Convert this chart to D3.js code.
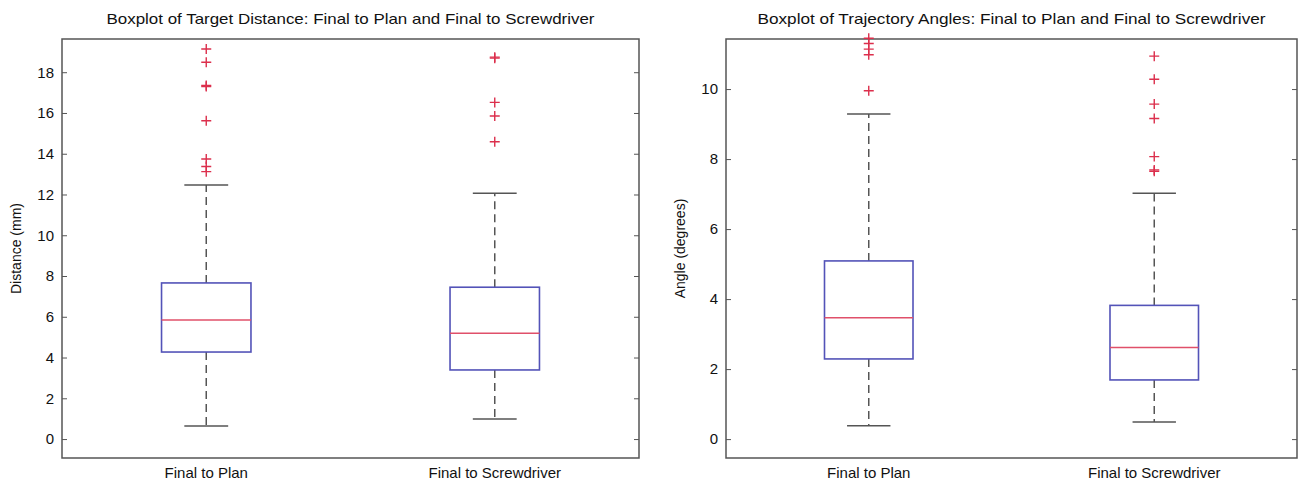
<!DOCTYPE html>
<html>
<head>
<meta charset="utf-8">
<script src="https://cdn.jsdelivr.net/npm/d3@7"></script>
<style>
  body { margin: 0; background: #fff; }
  svg { display: block; font-family: "Liberation Sans", Arial, sans-serif; }
</style>
</head>
<body>
<svg id="chart" width="1299" height="484"></svg>
<script>
// categories
const groups = ["Final to Plan", "Final to Screwdriver"];

// target distance (mm), one value per group
const distLow = [0.64, 0.98];
const distQ1 = [4.27, 3.39];
const distMedian = [5.84, 5.19];
const distQ3 = [7.66, 7.45];
const distHigh = [12.47, 12.06];
const distOutliers = [
  [19.14, 18.49, 17.35, 17.30, 15.62, 13.74, 13.37, 13.12],
  [18.74, 18.69, 16.52, 15.85, 14.59]
];
const distTicks = [0, 2, 4, 6, 8, 10, 12, 14, 16, 18];

// trajectory angles (degrees)
const angleLow = [0.38, 0.49];
const angleQ1 = [2.29, 1.69];
const angleMedian = [3.47, 2.62];
const angleQ3 = [5.09, 3.82];
const angleHigh = [9.29, 7.02];
const angleOutliers = [
  [11.45, 11.3, 11.14, 10.98, 9.95],
  [10.94, 10.28, 9.57, 9.16, 8.07, 7.69, 7.65]
];
const angleTicks = [0, 2, 4, 6, 8, 10];

const svg = d3.select("#chart");

function drawPanel(opt) {
  const g = svg.append("g");
  const {left, right, top, bottom} = opt;

  const x = d3.scaleLinear().domain([0.5, 2.5]).range([left, right]);
  const y = d3.scaleLinear().domain(opt.yDomain).range([bottom, top]);

  const boxW = x(1.155) - x(1);   // half box width
  const capW = x(1.076) - x(1);   // half cap width

  // frame
  g.append("rect")
    .attr("x", left).attr("y", top)
    .attr("width", right - left).attr("height", bottom - top)
    .attr("fill", "none").attr("stroke", "#555").attr("stroke-width", 1.5);

  // y ticks on both sides, pointing inward
  const yAxisL = d3.axisLeft(y).tickValues(opt.ticks).tickSizeInner(-5).tickSizeOuter(0).tickPadding(8);
  const ax = g.append("g").attr("transform", "translate(" + left + ",0)").call(yAxisL);
  ax.select(".domain").remove();
  ax.selectAll("line").attr("stroke", "#555");
  ax.selectAll("text").attr("font-size", 15).attr("fill", "#111")
    .attr("font-family", "Liberation Sans, Arial, sans-serif");

  const yAxisR = d3.axisRight(y).tickValues(opt.ticks).tickSizeInner(-5).tickSizeOuter(0).tickFormat("");
  const axR = g.append("g").attr("transform", "translate(" + right + ",0)").call(yAxisR);
  axR.select(".domain").remove();
  axR.selectAll("line").attr("stroke", "#555");

  // title
  g.append("text")
    .attr("x", (left + right) / 2).attr("y", 24)
    .attr("text-anchor", "middle").attr("font-size", 14.5).attr("fill", "#111")
    .attr("textLength", opt.titleWidth).attr("lengthAdjust", "spacingAndGlyphs")
    .text(opt.title);

  // y label
  g.append("text")
    .attr("transform", "translate(" + (left - 41) + "," + (y((opt.yDomain[0] + opt.yDomain[1]) / 2)) + ") rotate(-90)")
    .attr("text-anchor", "middle").attr("font-size", 14).attr("fill", "#111")
    .text(opt.yLabel);

  // x labels
  g.selectAll(".xlab").data(groups).join("text")
    .attr("x", (d, i) => x(i + 1)).attr("y", 478)
    .attr("text-anchor", "middle").attr("font-size", 15).attr("fill", "#111")
    .text(d => d);

  groups.forEach((name, i) => {
    const cx = x(i + 1);
    // whiskers
    g.append("line")
      .attr("x1", cx).attr("x2", cx)
      .attr("y1", y(opt.q3[i])).attr("y2", y(opt.high[i]))
      .attr("stroke", "#555").attr("stroke-width", 1.5).attr("stroke-dasharray", "8,5");
    g.append("line")
      .attr("x1", cx).attr("x2", cx)
      .attr("y1", y(opt.q1[i])).attr("y2", y(opt.low[i]))
      .attr("stroke", "#555").attr("stroke-width", 1.5).attr("stroke-dasharray", "8,5");
    // caps
    [opt.high[i], opt.low[i]].forEach(v => {
      g.append("line")
        .attr("x1", cx - capW).attr("x2", cx + capW)
        .attr("y1", y(v)).attr("y2", y(v))
        .attr("stroke", "#555").attr("stroke-width", 1.5);
    });
    // box
    g.append("rect")
      .attr("x", cx - boxW).attr("y", y(opt.q3[i]))
      .attr("width", 2 * boxW).attr("height", y(opt.q1[i]) - y(opt.q3[i]))
      .attr("fill", "none").attr("stroke", "#5353b8").attr("stroke-width", 1.6);
    // median
    g.append("line")
      .attr("x1", cx - boxW).attr("x2", cx + boxW)
      .attr("y1", y(opt.median[i])).attr("y2", y(opt.median[i]))
      .attr("stroke", "#e0506a").attr("stroke-width", 1.5);
    // outliers
    g.selectAll(".out" + i).data(opt.outliers[i]).join("path")
      .attr("d", "M-5,0H5M0,-5V5")
      .attr("transform", d => "translate(" + cx + "," + y(d) + ")")
      .attr("fill", "none").attr("stroke", "#dc2f4c").attr("stroke-width", 1.4);
  });
}

drawPanel({
  left: 62, right: 639, top: 39, bottom: 458,
  yDomain: [-0.93, 19.63], ticks: distTicks,
  title: "Boxplot of Target Distance: Final to Plan and Final to Screwdriver",
  titleWidth: 488,
  yLabel: "Distance (mm)",
  low: distLow, q1: distQ1, median: distMedian, q3: distQ3, high: distHigh,
  outliers: distOutliers
});

drawPanel({
  left: 726, right: 1297, top: 39, bottom: 458,
  yDomain: [-0.54, 11.43], ticks: angleTicks,
  title: "Boxplot of Trajectory Angles: Final to Plan and Final to Screwdriver",
  titleWidth: 508,
  yLabel: "Angle (degrees)",
  low: angleLow, q1: angleQ1, median: angleMedian, q3: angleQ3, high: angleHigh,
  outliers: angleOutliers
});
</script>
</body>
</html>
